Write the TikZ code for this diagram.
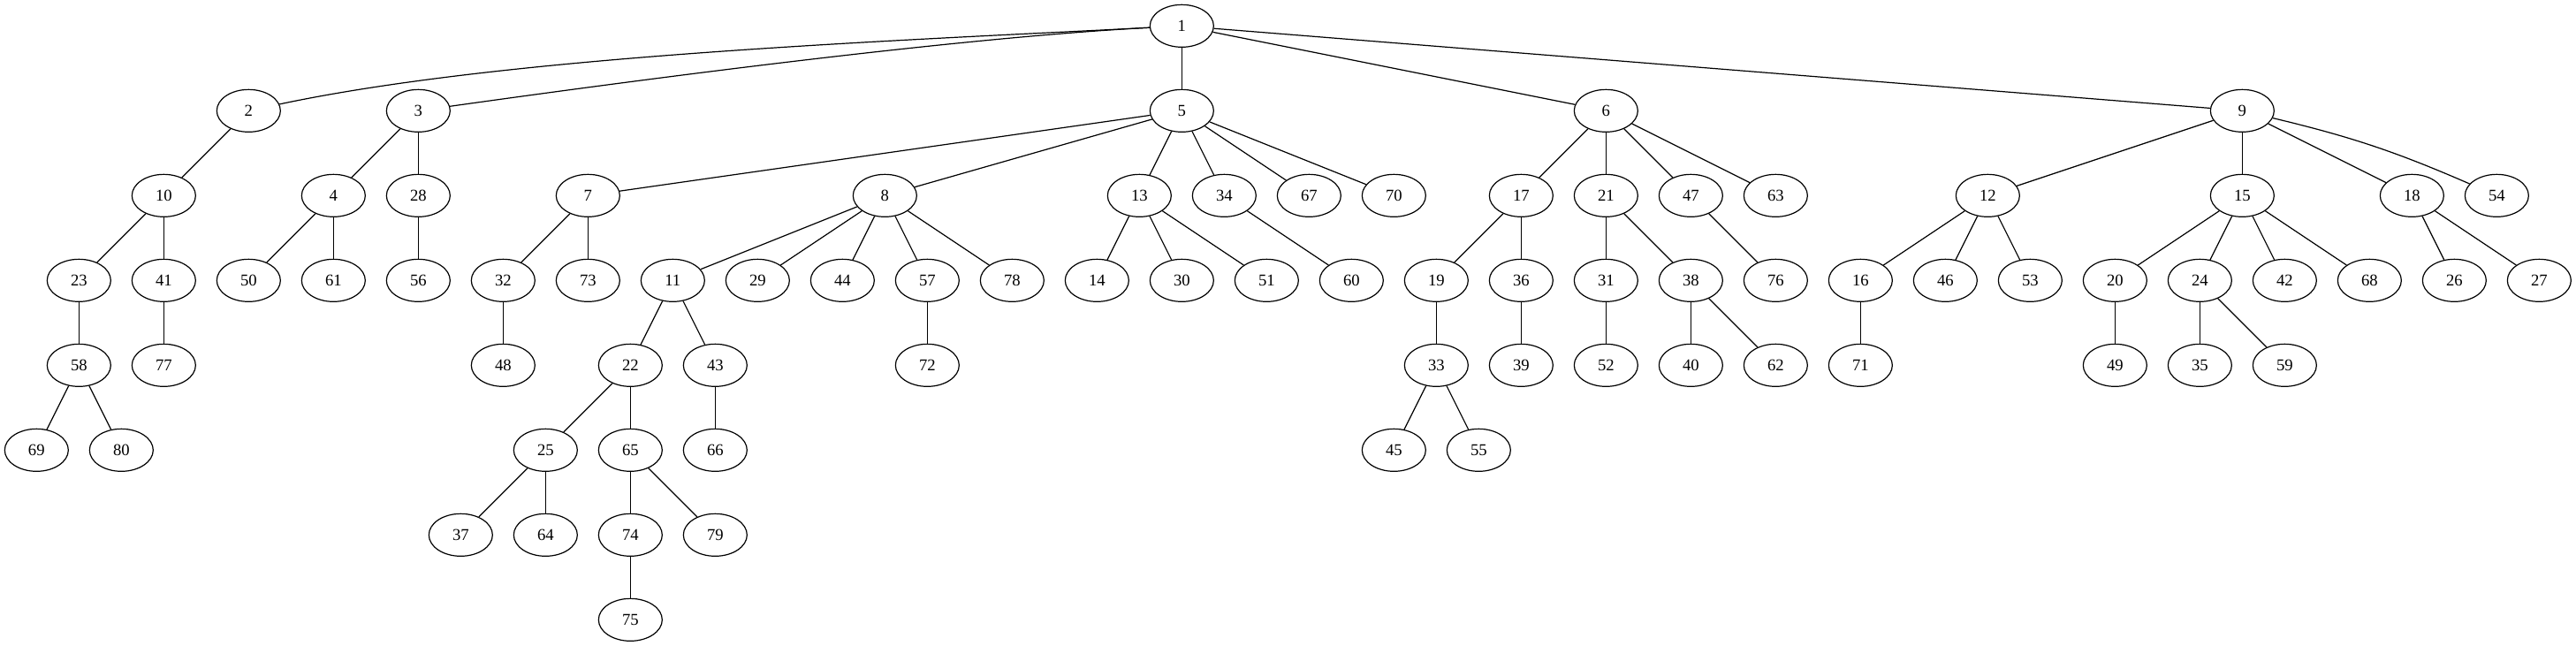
\documentclass[tikz,border=0pt]{standalone}
\usepackage{fontspec}
\setmainfont{Liberation Serif}
\usetikzlibrary{shapes.geometric}
\tikzset{
    vtx/.style={draw, ellipse, line width=0.9pt, minimum width=54pt, minimum height=36pt,
        inner sep=0pt, font=\fontsize{14}{16}\selectfont},
    link/.style={line width=0.9pt}
}
\begin{document}
\begin{tikzpicture}[x=36pt, y=-72pt]
    \useasboundingbox (-31pt, 22pt) rectangle (2155.25pt, -526pt);

    % Level 0 and 1
    \foreach \n/\k in {1/27}
        \node[vtx] (n\n) at (\k, 0) {\n};
    \foreach \n/\k in {2/5, 3/9, 5/27, 6/37, 9/52}
        \node[vtx] (n\n) at (\k, 1) {\n};

    % Level 2
    \foreach \n/\k in {10/3, 4/7, 28/9, 7/13, 8/20, 13/26, 34/28, 67/30, 70/32,
        17/35, 21/37, 47/39, 63/41, 12/46, 15/52, 18/56, 54/58}
        \node[vtx] (n\n) at (\k, 2) {\n};

    % Level 3
    \foreach \n/\k in {23/1, 41/3, 50/5, 61/7, 56/9, 32/11, 73/13, 11/15, 29/17,
        44/19, 57/21, 78/23, 14/25, 30/27, 51/29, 60/31, 19/33, 36/35, 31/37,
        38/39, 76/41, 16/43, 46/45, 53/47, 20/49, 24/51, 42/53, 68/55, 26/57, 27/59}
        \node[vtx] (n\n) at (\k, 3) {\n};

    % Level 4
    \foreach \n/\k in {58/1, 77/3, 48/11, 22/14, 43/16, 72/21, 33/33, 39/35,
        52/37, 40/39, 62/41, 71/43, 49/49, 35/51, 59/53}
        \node[vtx] (n\n) at (\k, 4) {\n};

    % Levels 5 to 7
    \foreach \n/\k in {69/0, 80/2, 25/12, 65/14, 66/16, 45/32, 55/34}
        \node[vtx] (n\n) at (\k, 5) {\n};
    \foreach \n/\k in {37/10, 64/12, 74/14, 79/16}
        \node[vtx] (n\n) at (\k, 6) {\n};
    \node[vtx] (n75) at (14, 7) {75};

    % Long edges from the root bend round node 3
    \draw[link] (n1) to[out=183, in=12, looseness=0.7] (n2);
    \draw[link] (n1) to[out=183, in=8, looseness=0.7] (n3);
    \draw[link] (n9) to[bend left=5] (n54);

    % Edges
    \foreach \a/\b in {1/5, 1/6, 1/9,
        2/10, 3/4, 3/28, 5/7, 5/8, 5/13, 5/34, 5/67, 5/70,
        6/17, 6/21, 6/47, 6/63, 9/12, 9/15, 9/18,
        10/23, 10/41, 4/50, 4/61, 28/56, 7/32, 7/73,
        8/11, 8/29, 8/44, 8/57, 8/78, 13/14, 13/30, 13/51, 34/60,
        17/19, 17/36, 21/31, 21/38, 47/76, 12/16, 12/46, 12/53,
        15/20, 15/24, 15/42, 15/68, 18/26, 18/27,
        23/58, 41/77, 32/48, 11/22, 11/43, 57/72, 19/33, 36/39,
        31/52, 38/40, 38/62, 16/71, 20/49, 24/35, 24/59,
        58/69, 58/80, 22/25, 22/65, 43/66, 33/45, 33/55,
        25/37, 25/64, 65/74, 65/79, 74/75}
        \draw[link] (n\a) -- (n\b);
\end{tikzpicture}
\end{document}
